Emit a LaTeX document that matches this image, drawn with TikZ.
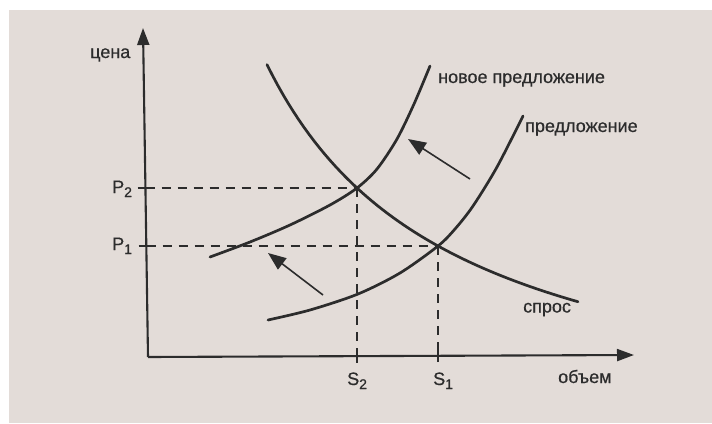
\documentclass[tikz,border=0pt]{standalone}
\usepackage{fontspec}
\setmainfont{Liberation Sans}
\newfontfamily\lblfont[FakeBold=0.6]{Liberation Sans}
\usetikzlibrary{arrows.meta}
\definecolor{paper}{HTML}{E3DCD8}
\definecolor{ink}{HTML}{2C2C2C}
\newcommand{\lowsub}[1]{\raisebox{-4pt}{\fontsize{14}{14}\selectfont#1}}
\begin{document}
\begin{tikzpicture}[x=1pt,y=-1pt,
  curve/.style={ink, line width=2.7pt, line cap=round},
  axis/.style={ink, line width=2.1pt, -{Triangle[length=17pt,width=12pt]}},
  guide/.style={ink, line width=1.6pt, dash pattern=on 9pt off 7pt},
  tickmark/.style={ink, line width=1.8pt},
  lbl/.style={text=ink, font=\lblfont\fontsize{18}{20}\selectfont, inner sep=0pt},
  shiftarrow/.style={ink, line width=1.6pt, -{Triangle[length=18pt,width=14pt]}}]
\useasboundingbox (0,0) rectangle (712,423);
\fill[white] (0,0) rectangle (712,423);
\fill[paper] (9,10) rectangle (712,423);

% axes
\coordinate (O) at (148,357);
\coordinate (ytip) at (143,28);
\coordinate (xtip) at (634,355);
\draw[axis] (O) -- (ytip);
\draw[axis] (O) -- (xtip);

% equilibrium points
\coordinate (E2) at (357,188);
\coordinate (E1) at (438,246);
\coordinate (P2t) at (145.5,188);
\coordinate (P1t) at (146.5,246);
\coordinate (S2t) at (357,356.5);
\coordinate (S1t) at (438,356);

% guides
\draw[guide] (P2t) -- (E2);
\draw[guide] (E2) -- (S2t);
\draw[guide] (P1t) -- (E1);
\draw[guide] (E1) -- (S1t);

% ticks
\draw[tickmark] ([xshift=-8pt]P2t) -- ([xshift=9pt]P2t);
\draw[tickmark] ([xshift=-8pt]P1t) -- ([xshift=9pt]P1t);
\draw[tickmark] ([yshift=-6pt]S2t) -- ([yshift=7pt]S2t);
\draw[tickmark] ([yshift=-6pt]S1t) -- ([yshift=7pt]S1t);

% demand
\draw[curve] plot[domain=267:578, samples=60] (\x, {444.3-710/((\x-80)/100)});
% new supply
\draw[curve] plot[smooth] coordinates {(210,257) (250,242) (290,225) (330,205) (357,188) (377,169) (397,139) (414,104) (430,66)};
% supply
\draw[curve] plot[smooth] coordinates {(268,320) (310,310) (358,294) (400,273) (438,246) (455,229) (473,206) (497,167) (523,116)};

% shift arrows
\coordinate (a1s) at (470,179);
\coordinate (a1e) at (408,139);
\coordinate (a2s) at (323,295);
\coordinate (a2e) at (268,253);
\draw[shiftarrow] (a1s) -- (a1e);
\draw[shiftarrow] (a2s) -- (a2e);

% labels
\node[lbl, anchor=base west] (price) at (90,58) {цена};
\node[lbl, anchor=base west] (vol) at (558,383) {объем};
\node[lbl, anchor=base west] (newsup) at (438,83) {новое предложение};
\node[lbl, anchor=base west] (sup) at (525,132) {предложение};
\node[lbl, anchor=base west] (dem) at (523,312.5) {спрос};
\node[lbl, anchor=base west] (p2) at (112,193) {P\lowsub{2}};
\node[lbl, anchor=base west] (p1) at (112,250) {P\lowsub{1}};
\node[lbl, anchor=base west] (s2) at (347,385) {S\lowsub{2}};
\node[lbl, anchor=base west] (s1) at (433,385) {S\lowsub{1}};
\end{tikzpicture}
\end{document}
